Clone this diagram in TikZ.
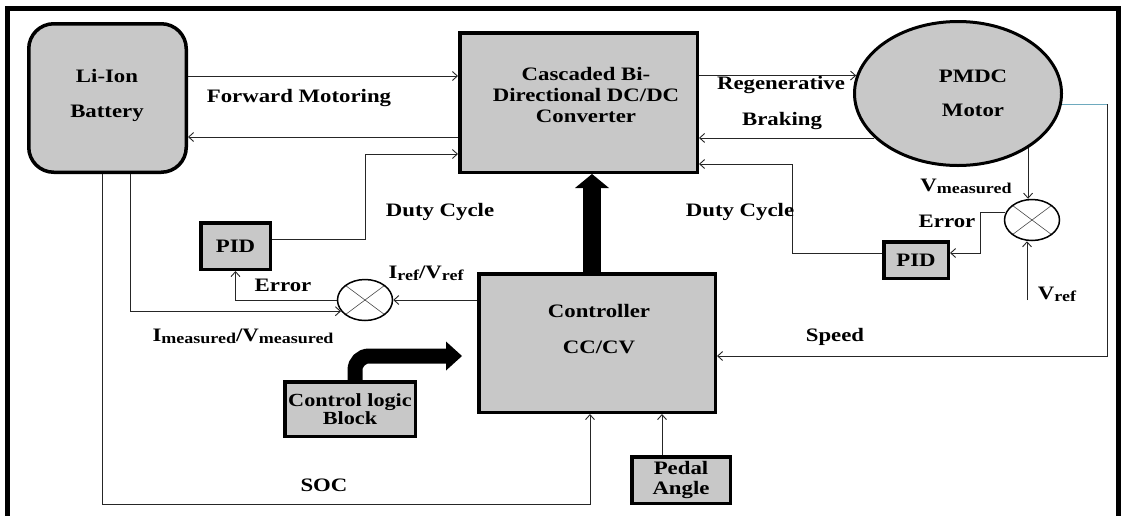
\documentclass[tikz,border=0pt]{standalone}
\usepackage{fontspec}
\setmainfont{Liberation Serif}[FakeStretch=1.2]
\usetikzlibrary{arrows.meta,shapes.geometric,calc}
\definecolor{boxgray}{RGB}{200,200,200}
\definecolor{speedblue}{RGB}{110,170,190}
\newcommand{\mysub}[1]{\raisebox{-2pt}{\fontsize{15}{15}\selectfont #1}}
\begin{document}
\begin{tikzpicture}[x=1pt,y=-1pt,
  box/.style={draw, line width=3.5pt, fill=boxgray, inner sep=0pt, align=center,
    font=\fontsize{19}{20}\selectfont\bfseries},
  lbl/.style={inner sep=0pt, font=\fontsize{19}{20}\selectfont\bfseries},
  conn/.style={draw=black!85, line width=0.9pt},
  arr/.style={conn, -{Straight Barb[length=5pt,width=9pt]}},
  fat/.style={line width=18pt, -{Triangle[length=14pt,width=34pt,line width=0pt]}},
  fatcurve/.style={line width=15pt, rounded corners=14pt, -{Triangle[length=16pt,width=29pt,line width=0pt]}},
  sumj/.style={ellipse, draw, line width=1.5pt, fill=white, minimum width=55pt, minimum height=41pt, inner sep=0pt,
    path picture={\draw[line width=0.6pt, black!70]
      (path picture bounding box.north west) -- (path picture bounding box.south east)
      (path picture bounding box.north east) -- (path picture bounding box.south west);}}
]
\useasboundingbox (0,0) rectangle (1121,515);
% outer frame
\draw[line width=4.5pt] (7.5,520) -- (7.5,8.5) -- (1118.5,8.5) -- (1118.5,520);

% blocks
\node[box, rounded corners=25pt, minimum width=157.5pt, minimum height=148.5pt] (bat) at (107.5,98) {};
\node[lbl, align=center, font=\fontsize{19}{35}\selectfont\bfseries] (battxt) at (107,95) {Li-Ion\\Battery};

\node[box, minimum width=237.5pt, minimum height=139.5pt] (conv) at (578.5,102.5) {};
\node[lbl, align=center, font=\fontsize{19}{21}\selectfont\bfseries] (convtxt) at (586,95) {Cascaded Bi-\\Directional DC/DC\\Converter};

\node[ellipse, draw, line width=3pt, fill=boxgray, minimum width=207pt, minimum height=144pt, inner sep=0pt] (motor) at (958,93.5) {};
\node[lbl, align=center, font=\fontsize{19}{34}\selectfont\bfseries] (motortxt) at (973,93) {PMDC\\Motor};

\node[box, minimum width=236.5pt, minimum height=138.5pt] (ctrl) at (597,343) {};
\node[lbl, align=center, font=\fontsize{19}{36}\selectfont\bfseries] (ctrltxt) at (599,329) {Controller\\CC/CV};

\node[box, minimum width=69.5pt, minimum height=46.5pt] (pid1) at (235.5,246) {PID};
\node[box, minimum width=64.5pt, minimum height=36.5pt] (pid2) at (916,260) {PID};
\node[box, minimum width=130.5pt, minimum height=54.5pt, font=\fontsize{18.5}{18}\selectfont\bfseries] (clb) at (350,409) {Control logic\\Block};
\node[box, minimum width=98.5pt, minimum height=46.5pt, font=\fontsize{19}{20}\selectfont\bfseries] (pedal) at (681,480) {Pedal\\Angle};

\node[sumj] (sum1) at (365,300) {};
\node[sumj] (sum2) at (1032,220) {};

% connectors
\draw[arr] (bat.east |- 0,76) -- (conv.west |- 0,76);
\draw[arr] (conv.west |- 0,137) -- (bat.east |- 0,137);
\draw[arr] (pid1.east |- 0,239) -| (365,154) -- (conv.west |- 0,154);
\draw[arr] (conv.east |- motor.170) -- (motor.170);
\draw[arr] (motor.208) -- (conv.east |- motor.208);
\draw[arr] (pid2.west |- 0,253) -| (792,164) -- (conv.east |- 0,164);
\draw[arr] (motor.-38) -- (motor.-38 |- sum2.north);
\coordinate (vrefin) at (1027,300);
\draw[arr] (vrefin) -- (vrefin |- sum2.south);
\draw[arr] (sum2.165) -| (980,253) -- (pid2.east |- 0,253);
\draw[arr] (motor.-6) -| (1107,356) -- (ctrl.east |- 0,356);
\draw[conn, draw=speedblue] (motor.-6) -- (motor.-6 -| 1107,0);
\draw[arr] (ctrl.west |- sum1.east) -- (sum1.east);
\draw[arr] (sum1.west) -| (pid1.south);
\draw[arr] (bat.south -| 130,0) |- (sum1.205);
\draw[arr] (bat.south -| 102,0) |- (590,504) -- (ctrl.south -| 590,0);
\draw[arr] (pedal.north -| 662,0) -- (ctrl.south -| 662,0);

% thick arrows
\draw[fat] (ctrl.north -| 592,0) -- (conv.south -| 592,0);
\coordinate (clbtip) at (462,356);
\draw[fatcurve] (clb.north -| 355,0) |- (clbtip);

% labels
\node[lbl] (tfm) at (299,98) {Forward Motoring};
\node[lbl] (treg) at (781,85) {Regenerative};
\node[lbl] (tbrk) at (782,121) {Braking};
\node[lbl] (tdc1) at (440,212) {Duty Cycle};
\node[lbl] (tdc2) at (740,212) {Duty Cycle};
\node[lbl] (tvm) at (966,186) {V\mysub{measured}};
\node[lbl] (terr2) at (947,221) {Error};
\node[lbl] (tvref) at (1057,294) {V\mysub{ref}};
\node[lbl] (tspd) at (835,337) {Speed};
\node[lbl] (tiref) at (426,273) {I\mysub{ref}/V\mysub{ref}};
\node[lbl] (terr1) at (283,285) {Error};
\node[lbl] (timeas) at (243,336) {I\mysub{measured}/V\mysub{measured}};
\node[lbl] (tsoc) at (324,485) {SOC};
\end{tikzpicture}
\end{document}
